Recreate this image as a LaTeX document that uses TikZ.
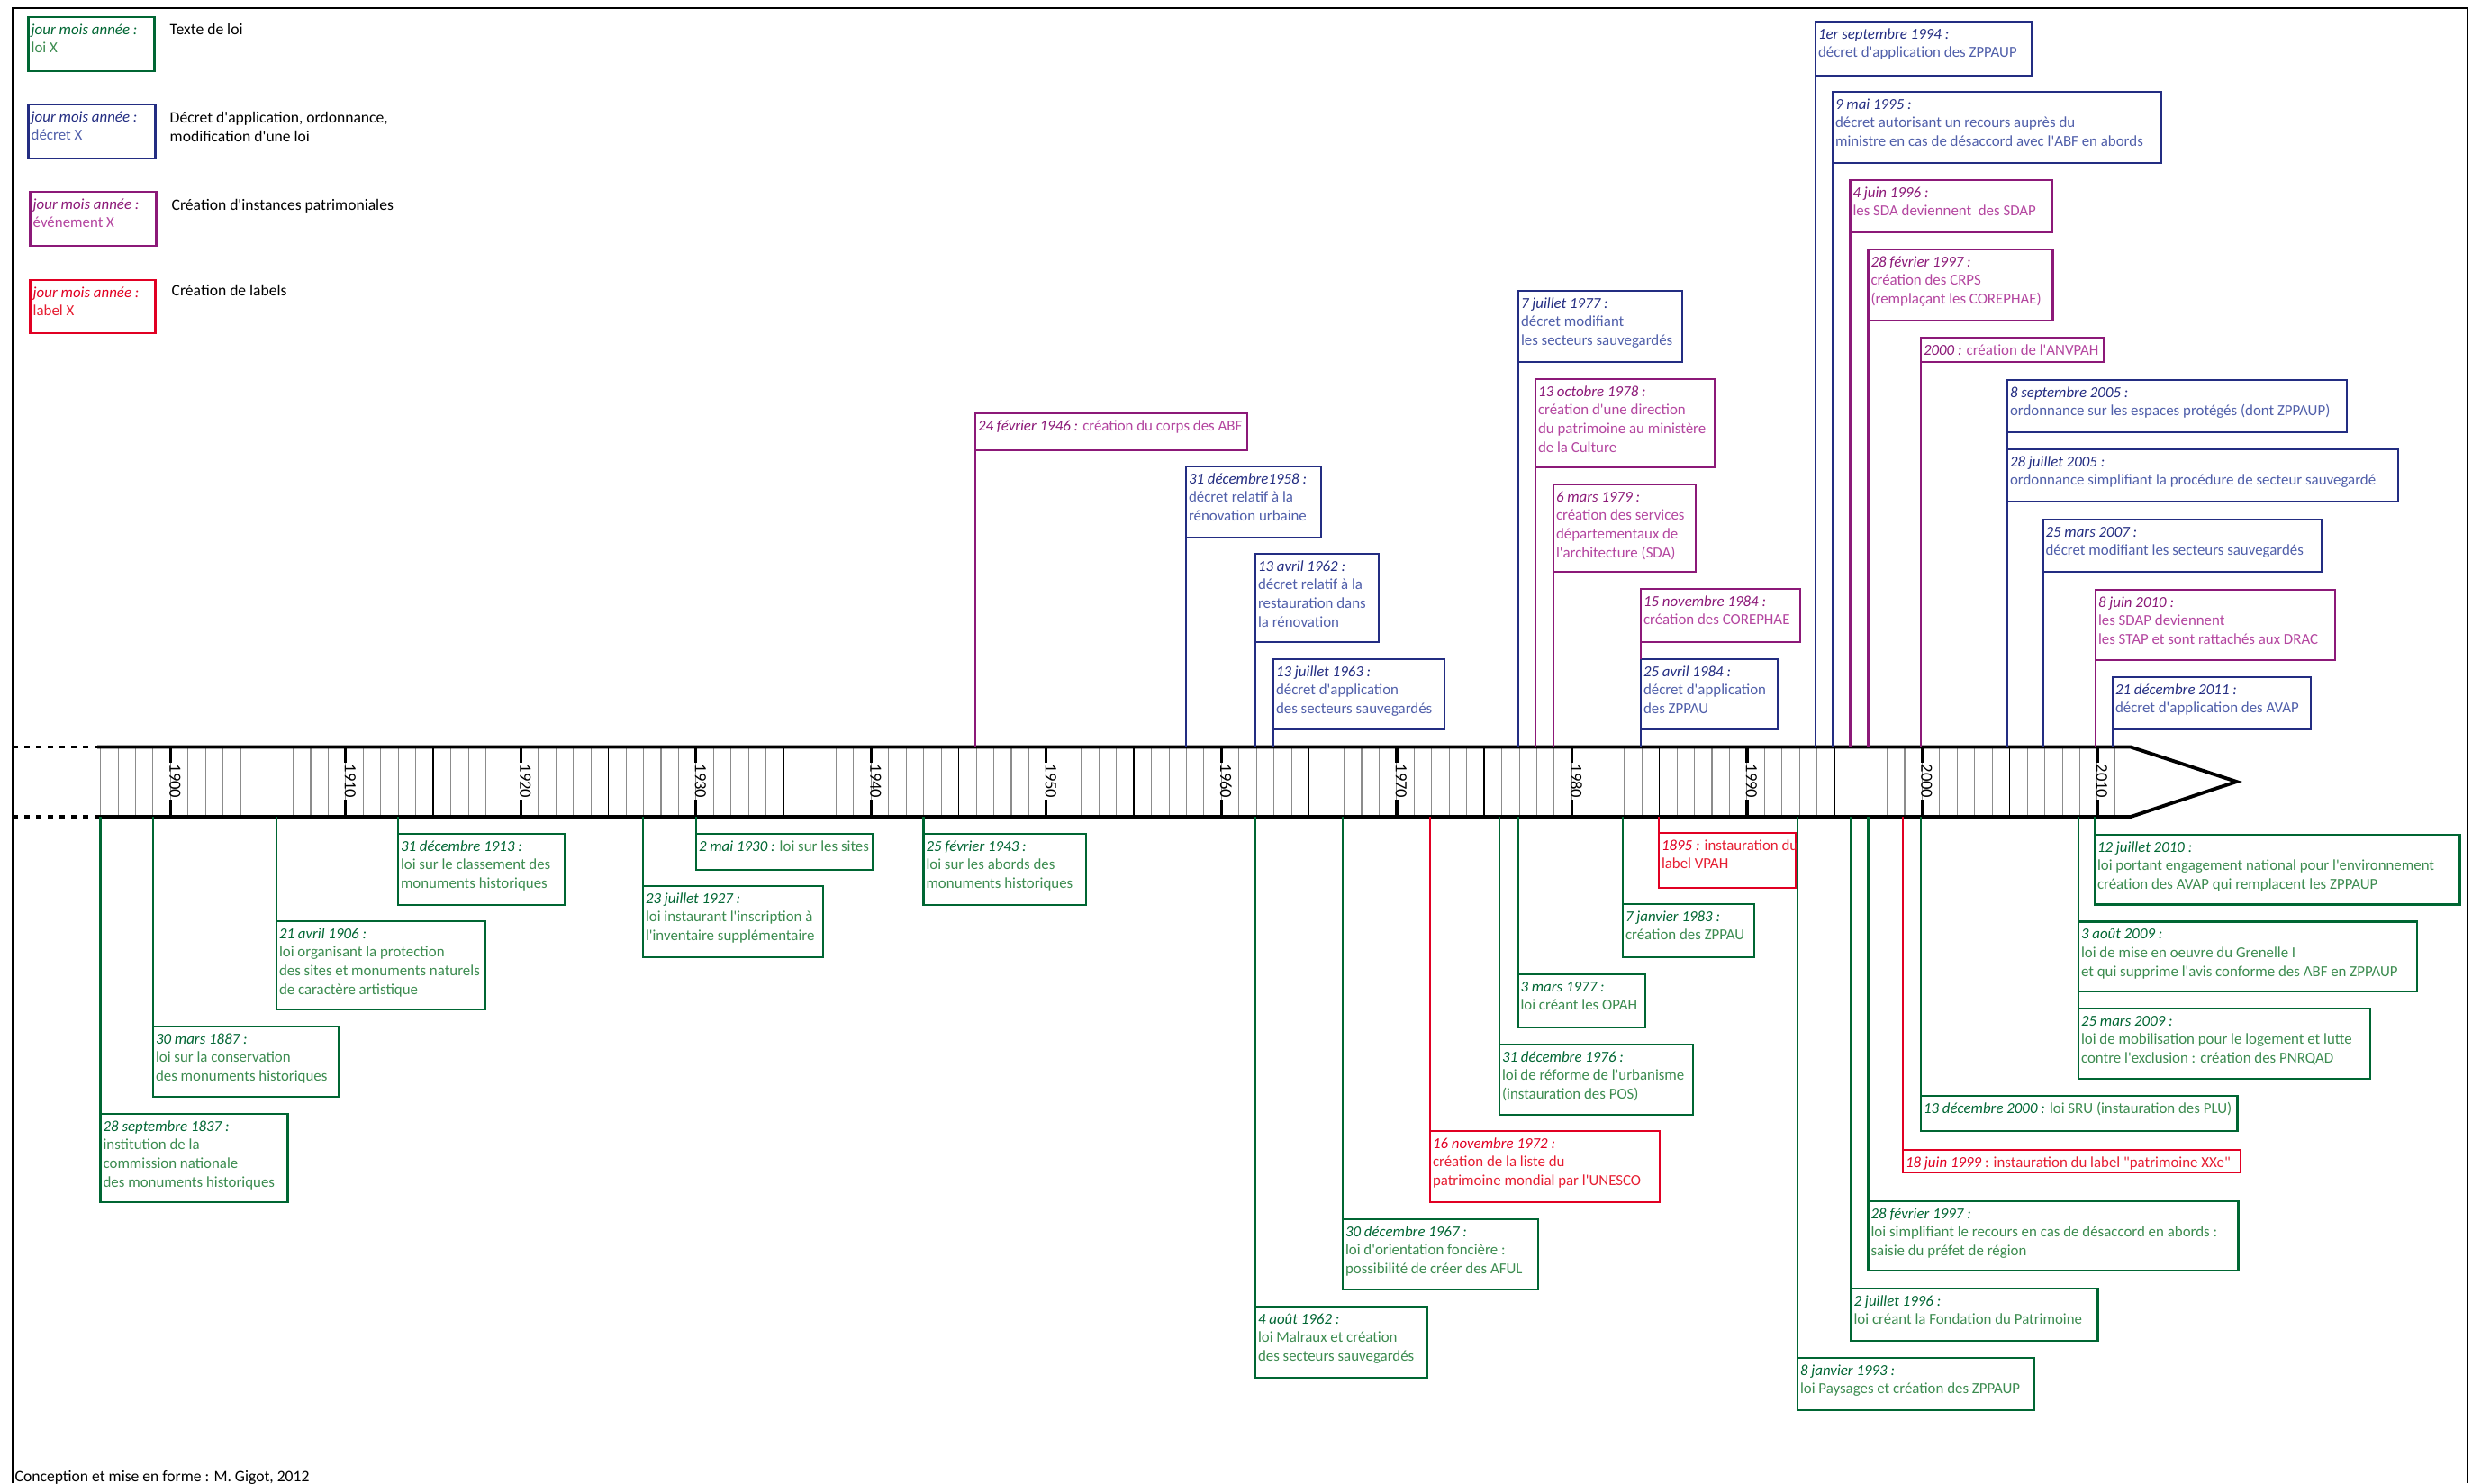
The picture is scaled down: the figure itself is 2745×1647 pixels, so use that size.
\documentclass[tikz,border=0pt]{standalone}
\usepackage{fontspec}
\setmainfont{Carlito}[Ligatures=TeXOff]
\usetikzlibrary{positioning,calc}

\definecolor{loiD}{RGB}{0,102,51}
\definecolor{loiT}{RGB}{60,140,80}
\definecolor{decD}{RGB}{35,45,130}
\definecolor{decT}{RGB}{80,95,170}
\definecolor{insD}{RGB}{140,25,120}
\definecolor{insT}{RGB}{180,70,160}
\definecolor{labD}{RGB}{225,0,35}
\definecolor{labT}{RGB}{230,30,50}

\newlength\pxu \setlength\pxu{0.01cm}
\newcommand\dcol{black}
\newcommand\dt[1]{{\itshape\color{\dcol}#1}}
\newcommand\ev[3]{\parbox[t][#2\pxu][t]{#1\pxu}{\hspace*{3\pxu}\begin{tabular}[t]{@{}l@{}}\rule{0pt}{19\pxu}#3\end{tabular}}}

\begin{document}
\begin{tikzpicture}
  [x=0.01cm, y=-0.01cm,
   evtN/.style={draw, fill=white, line width=0.8pt, inner sep=0pt, outer sep=0pt,
     anchor=north west, font=\fontsize{4.8}{5.95}\selectfont},
   loiN/.style={evtN, draw=loiD, text=loiT, execute at begin node={\def\dcol{loiD}}},
   decN/.style={evtN, draw=decD, text=decT, execute at begin node={\def\dcol{decD}}},
   insN/.style={evtN, draw=insD, text=insT, execute at begin node={\def\dcol{insD}}},
   labN/.style={evtN, draw=labD, text=labT, execute at begin node={\def\dcol{labD}}},
   loiL/.style={draw=loiD, line width=0.8pt},
   decL/.style={draw=decD, line width=0.8pt},
   insL/.style={draw=insD, line width=0.8pt},
   labL/.style={draw=labD, line width=0.8pt},
   axL/.style={line width=1.1pt},
   yearT/.style={draw=black!45, line width=0.3pt},
   midT/.style={draw=black, line width=0.45pt},
   decT/.style={draw=black, line width=0.9pt},
   yearN/.style={rotate=-90, inner sep=0pt, font=\fontsize{5.3}{6}\selectfont},
   legN/.style={anchor=base west, inner sep=0pt, font=\fontsize{5}{6}\selectfont}]

  \useasboundingbox (0,0) rectangle (2745,1647);
  \draw [line width=0.7pt] (14,1647) -- (14,9) -- (2740,9) -- (2740,1647);

  % legend
  \node [loiN] (leg1) at (31.7,19)  {\ev{140}{60}{\dt{jour mois année :}\\loi X}};
  \node [decN] (leg2) at (31.7,116) {\ev{141}{60}{\dt{jour mois année :}\\décret X}};
  \node [insN] (leg3) at (33.7,213) {\ev{140}{60}{\dt{jour mois année :}\\événement X}};
  \node [labN] (leg4) at (33.7,311) {\ev{139}{59}{\dt{jour mois année :}\\label X}};
  \node [legN] (lgt1) at (188,38)  {Texte de loi};
  \node [legN] (lgt2) at (188,136) {\begin{tabular}[t]{@{}l@{}}Décret d'application, ordonnance,\\modification d'une loi\end{tabular}};
  \node [legN] (lgt3) at (190,233) {Création d'instances patrimoniales};
  \node [legN] (lgt4) at (190,328) {Création de labels};

  % time axis
  \coordinate (axT) at (0,829.5);
  \coordinate (axB) at (0,907);
  \foreach \y [evaluate=\y as \x using 189.4+(\y-1900)*19.45] in {1896,...,2012}
    \draw [yearT] (\x,829.5) -- (\x,907);
  \foreach \y [evaluate=\y as \x using 189.4+(\y-1900)*19.45] in {1905,1915,...,2005}
    \draw [midT] (\x,829.5) -- (\x,907);
  \foreach \y [evaluate=\y as \x using 189.4+(\y-1900)*19.45] in {1900,1910,...,2010} {
    \draw [decT] (\x,829.5) -- (\x,847) (\x,888) -- (\x,907);
    \node [yearN] (y\y) at (\x+5,867.5) {\y};
  }
  \draw [axL] (108,829.5) -- (2366,829.5) -- (2483.6,868) -- (2366,907) -- (108,907);
  \draw [axL,dash pattern=on 0.06cm off 0.07cm] (14,829.5) -- (108,829.5) (14,907) -- (108,907);

  % above the axis
  \node [insN] (t1946)  at (1083,459)  {\ev{302}{41}{\dt{24 février 1946 :} création du corps des ABF}};
  \node [decN] (t1958)  at (1317,518)  {\ev{150}{79}{\dt{31 décembre1958 :}\\décret relatif à la\\rénovation urbaine}};
  \node [decN] (t1962)  at (1394,615)  {\ev{137}{98}{\dt{13 avril 1962 :}\\décret relatif à la\\restauration dans\\la rénovation}};
  \node [decN] (t1963)  at (1414,732)  {\ev{190}{78}{\dt{13 juillet 1963 :}\\décret d'application\\des secteurs sauvegardés}};
  \node [decN] (t1977)  at (1686,323)  {\ev{182}{79}{\dt{7 juillet 1977 :}\\décret modifiant\\les secteurs sauvegardés}};
  \node [insN] (t1978)  at (1705,421)  {\ev{199}{98}{\dt{13 octobre 1978 :}\\création d'une direction\\du patrimoine au ministère\\de la Culture}};
  \node [insN] (t1979)  at (1725,538)  {\ev{158}{97}{\dt{6 mars 1979 :}\\création des services\\départementaux de\\l'architecture (SDA)}};
  \node [insN] (t1984n) at (1822,654)  {\ev{177}{59}{\dt{15 novembre 1984 :}\\création des COREPHAE}};
  \node [decN] (t1984a) at (1822,732)  {\ev{152}{78}{\dt{25 avril 1984 :}\\décret d'application\\des ZPPAU}};
  \node [decN] (t1994)  at (2016,24)   {\ev{240}{60}{\dt{1er septembre 1994 :}\\décret d'application des ZPPAUP}};
  \node [decN] (t1995)  at (2035,102)  {\ev{365}{79}{\dt{9 mai 1995 :}\\décret autorisant un recours auprès du\\ministre en cas de désaccord avec l'ABF en abords}};
  \node [insN] (t1996)  at (2054.5,200) {\ev{224}{58}{\dt{4 juin 1996 :}\\les SDA deviennent \ des SDAP}};
  \node [insN] (t1997)  at (2074.5,277) {\ev{205}{79}{\dt{28 février 1997 :}\\création des CRPS\\(remplaçant les COREPHAE)}};
  \node [insN] (t2000)  at (2133,375)  {\ev{203}{27}{\dt{2000 :} création de l'ANVPAH}};
  \node [decN] (t2005s) at (2229,422)  {\ev{377}{58}{\dt{8 septembre 2005 :}\\ordonnance sur les espaces protégés (dont ZPPAUP)}};
  \node [decN] (t2005j) at (2229,499)  {\ev{434}{58}{\dt{28 juillet 2005 :}\\ordonnance simplifiant la procédure de secteur sauvegardé}};
  \node [decN] (t2007)  at (2268.5,577) {\ev{310}{58}{\dt{25 mars 2007 :}\\décret modifiant les secteurs sauvegardés}};
  \node [insN] (t2010)  at (2327,655)  {\ev{266}{78}{\dt{8 juin 2010 :}\\les SDAP deviennent\\les STAP et sont rattachés aux DRAC}};
  \node [decN] (t2011)  at (2346,752)  {\ev{220}{58}{\dt{21 décembre 2011 :}\\décret d'application des AVAP}};

  \draw [insL] (t1946.south west) -- (t1946.south west |- axT);
  \draw [decL] (t1958.south west) -- (t1958.south west |- axT);
  \draw [decL] (t1962.south west) -- (t1962.south west |- axT);
  \draw [decL] (t1963.south west) -- (t1963.south west |- axT);
  \draw [decL] (t1977.south west) -- (t1977.south west |- axT);
  \draw [insL] (t1978.south west) -- (t1978.south west |- axT);
  \draw [insL] (t1979.south west) -- (t1979.south west |- axT);
  \draw [insL] (t1984n.south west) -- (t1984a.north west);
  \draw [decL] (t1984a.south west) -- (t1984a.south west |- axT);
  \draw [decL] (t1994.south west) -- (t1994.south west |- axT);
  \draw [decL] (t1995.south west) -- (t1995.south west |- axT);
  \draw [insL] (t1996.south west) -- (t1996.south west |- axT);
  \draw [insL] (t1997.south west) -- (t1997.south west |- axT);
  \draw [insL] (t2000.south west) -- (t2000.south west |- axT);
  \draw [decL] (t2005s.south west) -- (t2005j.north west);
  \draw [decL] (t2005j.south west) -- (t2005j.south west |- axT);
  \draw [decL] (t2007.south west) -- (t2007.south west |- axT);
  \draw [insL] (t2010.south west) -- (t2010.south west |- axT);
  \draw [decL] (t2011.south west) -- (t2011.south west |- axT);

  % below the axis
  \node [loiN] (b1837)  at (111.6,1237) {\ev{207.5}{98}{\dt{28 septembre 1837 :}\\institution de la\\commission nationale\\des monuments historiques}};
  \node [loiN] (b1887)  at (170,1140)  {\ev{206}{78}{\dt{30 mars 1887 :}\\loi sur la conservation\\des monuments historiques}};
  \node [loiN] (b1906)  at (307,1023)  {\ev{232}{98}{\dt{21 avril 1906 :}\\loi organisant la protection\\des sites et monuments naturels\\de caractère artistique}};
  \node [loiN] (b1913)  at (442,926)   {\ev{185.5}{79}{\dt{31 décembre 1913 :}\\loi sur le classement des\\monuments historiques}};
  \node [loiN] (b1927)  at (714,984)   {\ev{200}{79}{\dt{23 juillet 1927 :}\\loi instaurant l'inscription à\\l'inventaire supplémentaire}};
  \node [loiN] (b1930)  at (773,926)   {\ev{196}{40}{\dt{2 mai 1930 :} loi sur les sites}};
  \node [loiN] (b1943)  at (1025.5,926) {\ev{180.5}{79}{\dt{25 février 1943 :}\\loi sur les abords des\\monuments historiques}};
  \node [loiN] (b1962)  at (1394,1451) {\ev{191}{79}{\dt{4 août 1962 :}\\loi Malraux et création\\des secteurs sauvegardés}};
  \node [loiN] (b1967)  at (1491,1354) {\ev{217}{78}{\dt{30 décembre 1967 :}\\loi d'orientation foncière :\\possibilité de créer des AFUL}};
  \node [labN] (b1972)  at (1588,1256) {\ev{255}{79}{\dt{16 novembre 1972 :}\\création de la liste du\\patrimoine mondial par l'UNESCO}};
  \node [loiN] (b1976)  at (1665,1160) {\ev{215}{78}{\dt{31 décembre 1976 :}\\loi de réforme de l'urbanisme\\(instauration des POS)}};
  \node [loiN] (b1977)  at (1685.5,1082) {\ev{141.5}{59}{\dt{3 mars 1977 :}\\loi créant les OPAH}};
  \node [loiN] (b1983)  at (1802,1004) {\ev{146}{59}{\dt{7 janvier 1983 :}\\création des ZPPAU}};
  \node [labN] (b1895)  at (1842,925)  {\ev{152}{61}{\dt{1895 :} instauration du\\label VPAH}};
  \node [loiN] (b1993)  at (1996,1508) {\ev{263}{58}{\dt{8 janvier 1993 :}\\loi Paysages et création des ZPPAUP}};
  \node [loiN] (b1996)  at (2055.6,1431) {\ev{273.5}{58}{\dt{2 juillet 1996 :}\\loi créant la Fondation du Patrimoine}};
  \node [loiN] (b1997)  at (2074.6,1334) {\ev{411}{77}{\dt{28 février 1997 :}\\loi simplifiant le recours en cas de désaccord en abords :\\saisie du préfet de région}};
  \node [labN] (b1999)  at (2113,1277) {\ev{375}{25}{\dt{18 juin 1999} : instauration du label "patrimoine XXe"}};
  \node [loiN] (b2000)  at (2133,1217) {\ev{351.5}{39}{\dt{13 décembre 2000 :} loi SRU (instauration des PLU)}};
  \node [loiN] (b2009m) at (2308,1120) {\ev{324}{78}{\dt{25 mars 2009 :}\\loi de mobilisation pour le logement et lutte\\contre l'exclusion : création des PNRQAD}};
  \node [loiN] (b2009a) at (2308,1023.5) {\ev{376}{77.5}{\dt{3 août 2009 :}\\loi de mise en oeuvre du Grenelle I\\et qui supprime l'avis conforme des ABF en ZPPAUP}};
  \node [loiN] (b2010)  at (2326,927)  {\ev{405.5}{77.5}{\dt{12 juillet 2010 :}\\loi portant engagement national pour l'environnement\\création des AVAP qui remplacent les ZPPAUP}};

  \draw [loiL] (b1837.north west) -- (b1837.north west |- axB);
  \draw [loiL] (b1887.north west) -- (b1887.north west |- axB);
  \draw [loiL] (b1906.north west) -- (b1906.north west |- axB);
  \draw [loiL] (b1913.north west) -- (b1913.north west |- axB);
  \draw [loiL] (b1927.north west) -- (b1927.north west |- axB);
  \draw [loiL] (b1930.north west) -- (b1930.north west |- axB);
  \draw [loiL] (b1943.north west) -- (b1943.north west |- axB);
  \draw [loiL] (b1962.north west) -- (b1962.north west |- axB);
  \draw [loiL] (b1967.north west) -- (b1967.north west |- axB);
  \draw [labL] (b1972.north west) -- (b1972.north west |- axB);
  \draw [loiL] (b1976.north west) -- (b1976.north west |- axB);
  \draw [loiL] (b1977.north west) -- (b1977.north west |- axB);
  \draw [loiL] (b1983.north west) -- (b1983.north west |- axB);
  \draw [labL] (b1895.north west) -- (b1895.north west |- axB);
  \draw [loiL] (b1993.north west) -- (b1993.north west |- axB);
  \draw [loiL] (b1996.north west) -- (b1996.north west |- axB);
  \draw [loiL] (b1997.north west) -- (b1997.north west |- axB);
  \draw [labL] (b1999.north west) -- (b1999.north west |- axB);
  \draw [loiL] (b2000.north west) -- (b2000.north west |- axB);
  \draw [loiL] (b2009m.north west) -- (b2009a.south west);
  \draw [loiL] (b2009a.north west) -- (b2009a.north west |- axB);
  \draw [loiL] (b2010.north west) -- (b2010.north west |- axB);

  \node [legN] (credit) at (16,1645) {Conception et mise en forme : M. Gigot, 2012};
\end{tikzpicture}
\end{document}
